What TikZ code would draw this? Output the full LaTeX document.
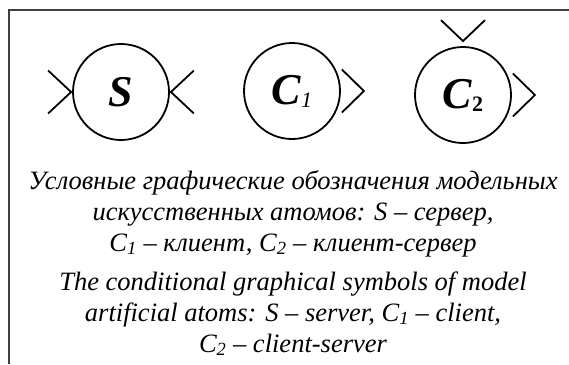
\documentclass[tikz,border=0pt]{standalone}
\usepackage{fontspec}
\setmainfont{Liberation Serif}
\definecolor{framegray}{HTML}{404040}
\tikzset{
  atom/.style={circle, draw, line width=1.8pt, minimum size=96pt, inner sep=0pt},
  chev/.style={line width=1.8pt, line join=miter},
  caption/.style={align=center, anchor=base, font=\fontsize{26.5}{31}\selectfont\itshape},
  atomlabel/.style={font=\fontsize{44}{44}\selectfont\bfseries\itshape}
}
\begin{document}
\begin{tikzpicture}[x=1pt,y=-1pt]
\useasboundingbox (0,0) rectangle (569,364);
\coordinate (ftr) at (569,10);
\coordinate (ftl) at (9,10);
\coordinate (fbl) at (9,364);
\draw[framegray, line width=2pt] (ftr) -- (ftl) -- (fbl);

\node[atom] (S) at (121,92) {};
\node[atomlabel] (Slab) at (S.center) {S};
\node[atom] (C1) at (292,91) {};
\node[atomlabel] (C1lab) at (C1.center) {C\raisebox{-3pt}{\fontsize{22}{22}\selectfont\mdseries 1}};
\node[atom] (C2) at (463,95) {};
\node[atomlabel] (C2lab) at (C2.center) {C\raisebox{-3pt}{\fontsize{22}{22}\selectfont\upshape 2}};

% S: two inputs
\draw[chev] ([xshift=-24pt,yshift=21.5pt]S.west) -- ([xshift=-1pt]S.west) -- ([xshift=-24pt,yshift=-21.5pt]S.west);
\draw[chev] ([xshift=24pt,yshift=21.5pt]S.east) -- ([xshift=1pt]S.east) -- ([xshift=24pt,yshift=-21.5pt]S.east);
% C1: output
\draw[chev] ([xshift=1pt,yshift=21.5pt]C1.east) -- ([xshift=23pt]C1.east) -- ([xshift=1pt,yshift=-21.5pt]C1.east);
% C2: input on top, output right
\draw[chev] ([xshift=-22pt,yshift=26pt]C2.north) -- ([yshift=5pt]C2.north) -- ([xshift=22pt,yshift=26pt]C2.north);
\draw[chev] ([xshift=1pt,yshift=21.5pt]C2.east) -- ([xshift=23pt]C2.east) -- ([xshift=1pt,yshift=-21.5pt]C2.east);

\node[caption] (ru1) at (293,189) {Условные графические обозначения модельных};
\node[caption] (ru2) at (293,220) {искусственных атомов: S – сервер,};
\node[caption] (ru3) at (293,251) {C\textsubscript{1} – клиент, C\textsubscript{2} – клиент-сервер};
\node[caption] (en1) at (293,290) {The conditional graphical symbols of model};
\node[caption] (en2) at (293,321) {artificial atoms: S – server, C\textsubscript{1} – client,};
\node[caption] (en3) at (293,352) {C\textsubscript{2} – client-server};
\end{tikzpicture}
\end{document}
